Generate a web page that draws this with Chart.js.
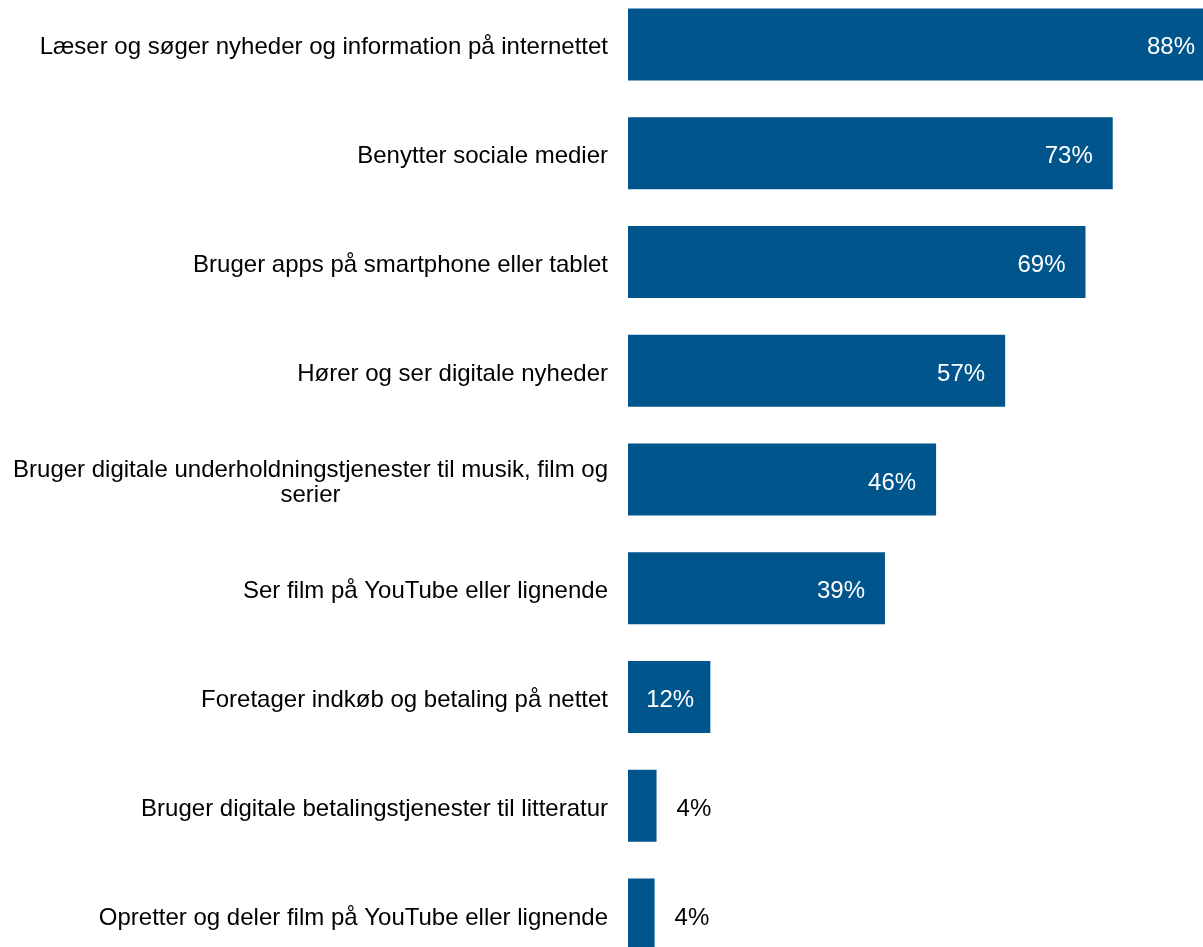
<!DOCTYPE html>
<html>
<head>
<meta charset="utf-8">
<script src="https://cdn.jsdelivr.net/npm/chart.js@4"></script>
<style>
html, body { margin: 0; padding: 0; background: #fff; overflow: hidden; width: 1203px; height: 947px; }
#wrap { position: absolute; left: 0; top: -10px; width: 1292px; height: 979px; }
</style>
</head>
<body>
<div id="wrap"><canvas id="c"></canvas></div>
<script>
const categories = [
  "Læser og søger nyheder og information på internettet",
  "Benytter sociale medier",
  "Bruger apps på smartphone eller tablet",
  "Hører og ser digitale nyheder",
  ["Bruger digitale underholdningstjenester til musik, film og", "serier"],
  "Ser film på YouTube eller lignende",
  "Foretager indkøb og betaling på nettet",
  "Bruger digitale betalingstjenester til litteratur",
  "Opretter og deler film på YouTube eller lignende"
];
const values = [88.4, 73.0, 68.9, 56.8, 46.4, 38.7, 12.4, 4.3, 4.0];
const barColor = "#00558C";
const FONT = '24px "Liberation Sans", Arial, sans-serif';

const labelPlugin = {
  id: 'customLabels',
  afterDatasetsDraw(chart) {
    const ctx = chart.ctx;
    const area = chart.chartArea;
    const yScale = chart.scales.y;
    const meta = chart.getDatasetMeta(0);
    const baseOff = 10;
    ctx.save();
    ctx.font = FONT;
    ctx.textBaseline = 'alphabetic';
    // category labels
    categories.forEach((cat, i) => {
      const lines = Array.isArray(cat) ? cat : [cat];
      const y = yScale.getPixelForValue(i);
      const xr = area.left - 20;
      const bw = Math.max(...lines.map(l => ctx.measureText(l).width));
      const lh = 25;
      ctx.fillStyle = '#000';
      ctx.textAlign = 'center';
      lines.forEach((l, j) => {
        const ly = y + baseOff + (j - (lines.length - 1) / 2) * lh;
        ctx.fillText(l, xr - bw / 2, ly);
      });
    });
    // value labels
    meta.data.forEach((bar, i) => {
      const txt = Math.round(values[i]) + '%';
      const w = ctx.measureText(txt).width;
      const barW = bar.x - bar.base;
      const pad = 20;
      const ly = bar.y + baseOff;
      if (barW >= w + 2 * pad) {
        ctx.fillStyle = '#fff';
        ctx.textAlign = 'right';
        ctx.fillText(txt, bar.x - pad, ly);
      } else if (barW >= w + 10) {
        ctx.fillStyle = '#fff';
        ctx.textAlign = 'center';
        ctx.fillText(txt, (bar.x + bar.base) / 2 + 1, ly);
      } else {
        ctx.fillStyle = '#000';
        ctx.textAlign = 'left';
        ctx.fillText(txt, bar.x + pad, ly);
      }
    });
    ctx.restore();
  }
};

new Chart(document.getElementById('c'), {
  type: 'bar',
  data: {
    labels: categories,
    datasets: [{
      data: values,
      backgroundColor: barColor,
      borderWidth: 0,
      categoryPercentage: 1,
      barPercentage: 0.662
    }]
  },
  options: {
    indexAxis: 'y',
    responsive: true,
    maintainAspectRatio: false,
    animation: false,
    devicePixelRatio: 1,
    layout: { padding: { left: 628, right: 0, top: 0, bottom: 0 } },
    plugins: { legend: { display: false }, tooltip: { enabled: false }, title: { display: false } },
    scales: {
      x: { display: false, min: 0, max: 100 },
      y: { display: false }
    }
  },
  plugins: [labelPlugin]
});
</script>
</body>
</html>
